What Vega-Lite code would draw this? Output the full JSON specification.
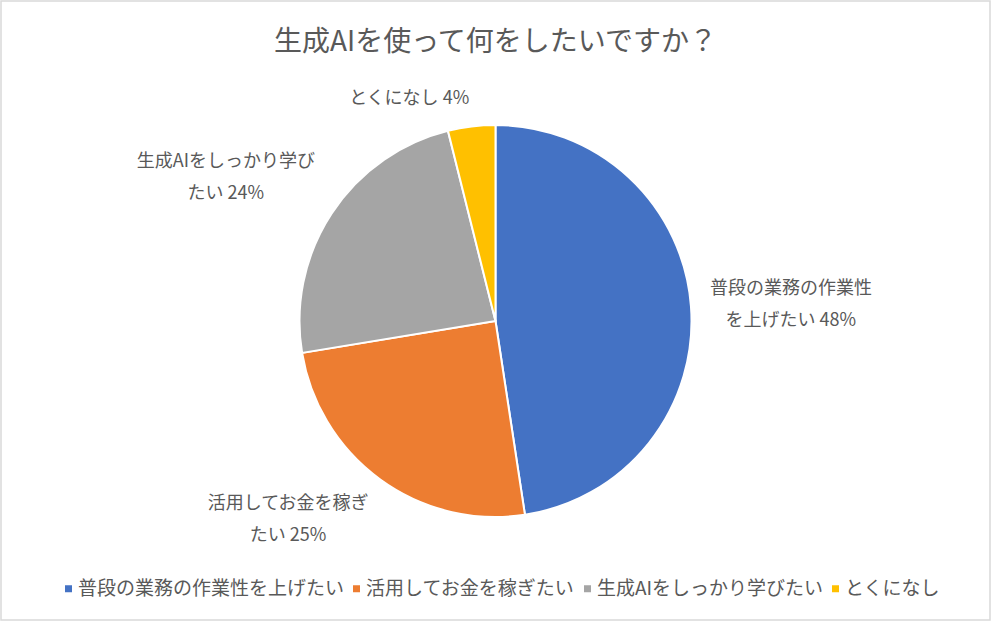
{
  "$schema": "https://vega.github.io/schema/vega-lite/v6.json",
  "width": 989,
  "height": 619,
  "autosize": {"type": "none"},
  "padding": {"left": 1, "top": 1, "right": 1, "bottom": 1},
  "background": "white",
  "view": {"stroke": "#d9d9d9", "strokeWidth": 1.5, "fill": "white"},
  "config": {
    "view": {"stroke": "#d9d9d9", "strokeWidth": 1.5},
    "font": "Noto Sans CJK JP"
  },
  "title": {
    "text": "生成AIを使って何をしたいですか？",
    "font": "Noto Sans CJK JP",
    "fontSize": 28,
    "fontWeight": "normal",
    "color": "#595959",
    "anchor": "middle",
    "frame": "group",
    "offset": -29,
    "baseline": "alphabetic",
    "dy": 49
  },
  "data": {
    "values": [
      {"rank": 1, "cat": "普段の業務の作業性を上げたい", "value": 47.6, "label": "普段の業務の作業性\nを上げたい 48%"},
      {"rank": 2, "cat": "活用してお金を稼ぎたい", "value": 24.8, "label": "活用してお金を稼ぎ\nたい 25%"},
      {"rank": 3, "cat": "生成AIをしっかり学びたい", "value": 23.7, "label": "生成AIをしっかり学び\nたい 24%"},
      {"rank": 4, "cat": "とくになし", "value": 3.9, "label": "とくになし 4%"}
    ]
  },
  "encoding": {
    "theta": {"field": "value", "type": "quantitative", "stack": true},
    "order": {"field": "rank", "type": "quantitative"}
  },
  "layer": [
    {
      "mark": {"type": "arc", "outerRadius": 196, "stroke": "white", "strokeWidth": 2, "yOffset": 10.5},
      "encoding": {
        "color": {
          "field": "cat",
          "type": "nominal",
          "sort": null,
          "scale": {
            "domain": ["普段の業務の作業性を上げたい", "活用してお金を稼ぎたい", "生成AIをしっかり学びたい", "とくになし"],
            "range": ["#4472C4", "#ED7D31", "#A5A5A5", "#FFC000"]
          },
          "legend": {
            "orient": "none",
            "legendX": 58,
            "legendY": 578,
            "direction": "horizontal",
            "title": null,
            "symbolType": "square",
            "symbolSize": 49,
            "symbolStrokeWidth": 0,
            "labelFont": "Noto Sans CJK JP",
            "labelFontSize": 19,
            "labelColor": "#595959",
            "labelLimit": 0,
            "labelOffset": 0,
            "columnPadding": 2
          }
        }
      }
    },
    {
      "mark": {
        "type": "text",
        "radius": 215,
        "yOffset": 10.5,
        "font": "Noto Sans CJK JP",
        "fontSize": 18,
        "lineHeight": 32,
        "lineBreak": "\n",
        "color": "#595959",
        "align": {"expr": "indexof(datum.label, '\\n') >= 0 ? 'center' : (sin(scale('theta', (datum.value_start + datum.value_end) / 2)) > 0 ? 'left' : 'right')"},
        "baseline": {"expr": "cos(scale('theta', (datum.value_start + datum.value_end) / 2)) > 0.5 ? 'bottom' : (cos(scale('theta', (datum.value_start + datum.value_end) / 2)) < -0.5 ? 'top' : 'middle')"},
        "dx": {"expr": "indexof(datum.label, '\\n') >= 0 ? (sin(scale('theta', (datum.value_start + datum.value_end) / 2)) > 0 ? 1 : -1) * 9 * (length(replace(substring(datum.label, 0, indexof(datum.label, '\\n')), regexp('[ -~]', 'g'), '')) + 0.5 * (indexof(datum.label, '\\n') - length(replace(substring(datum.label, 0, indexof(datum.label, '\\n')), regexp('[ -~]', 'g'), '')))) : 0"},
        "dy": {"expr": "-(indexof(datum.label, '\\n') >= 0 ? 32 : 0) * (cos(scale('theta', (datum.value_start + datum.value_end) / 2)) > 0.5 ? 1 : (cos(scale('theta', (datum.value_start + datum.value_end) / 2)) < -0.5 ? 0 : 0.5))"}
      },
      "encoding": {
        "detail": {"field": "cat", "type": "nominal"},
        "text": {"field": "label", "type": "nominal"}
      }
    }
  ]
}
